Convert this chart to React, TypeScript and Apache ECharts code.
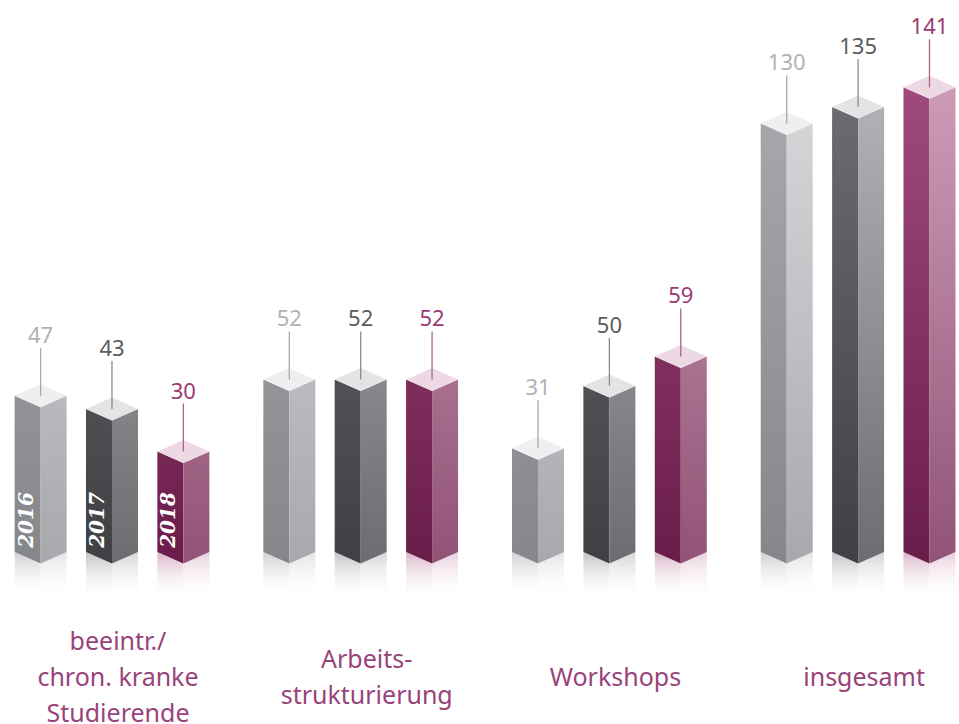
import React, { useEffect, useRef } from "react";
import * as echarts from "echarts";

const categories = ["beeintr./\nchron. kranke\nStudierende", "Arbeits-\nstrukturierung", "Workshops", "insgesamt"];
const years = ["2016", "2017", "2018"];
const values2016 = [47, 52, 31, 130];
const values2017 = [43, 52, 50, 135];
const values2018 = [30, 52, 59, 141];

const seriesValues = [values2016, values2017, values2018];

const palette = [
  { left: ["#a9aaae", "#86878b"], right: ["#d8d9db", "#a8a9ad"], top: "#eeeff1", label: "#b1b2b6", line: "#a9aaad", refl: ["#cfd0d2", "#e2e3e5"] },
  { left: ["#6d6e72", "#3f4044"], right: ["#b4b5b9", "#6c6d71"], top: "#e3e4e6", label: "#5b5c60", line: "#8a8b8e", refl: ["#bfc0c2", "#d4d5d7"] },
  { left: ["#9e4c7c", "#6a1c4a"], right: ["#cc9db8", "#925376"], top: "#edd9e4", label: "#9a3c73", line: "#b0628e", refl: ["#d9b3c7", "#e8cfdc"] },
];

function grad(c: string[]) {
  return {
    type: "linear",
    x: 0, y: 80, x2: 0, y2: 560,
    global: true,
    colorStops: [
      { offset: 0, color: c[0] },
      { offset: 1, color: c[1] },
    ],
  };
}

function fade(c: string, y0: number, y1: number) {
  return {
    type: "linear",
    x: 0, y: y0, x2: 0, y2: y1,
    global: true,
    colorStops: [
      { offset: 0, color: c },
      { offset: 1, color: "rgba(255,255,255,0)" },
    ],
  };
}

export default function App() {
  const ref = useRef<HTMLDivElement>(null);
  useEffect(() => {
    if (!ref.current) return;
    const chart = echarts.init(ref.current, undefined, { renderer: "svg" });

    const makeRender = (s: number) => (params: any, api: any) => {
      const ci = api.value(0);
      const v = api.value(1);
      const unit = api.size([1, 0])[0];
      const [cx0, yv] = api.coord([ci, v]);
      const [, yb0] = api.coord([ci, 0]);
      const yb = yb0 + 2;
      const cx = cx0 + (s - 1) * unit * 0.287;
      const w = 26;
      const dy = 11.5;
      const p = palette[s];
      const children: any[] = [];
      const rb = yb + 48;
      children.push({
        type: "polygon",
        shape: { points: [[cx - w, yb], [cx, yb + dy], [cx, rb], [cx - w, rb]] },
        style: { fill: fade(p.refl[0], yb, rb) },
      });
      children.push({
        type: "polygon",
        shape: { points: [[cx, yb + dy], [cx + w, yb], [cx + w, rb], [cx, rb]] },
        style: { fill: fade(p.refl[1], yb, rb) },
      });
      children.push({
        type: "polygon",
        shape: { points: [[cx - w, yv], [cx, yv + dy], [cx, yb + dy], [cx - w, yb]] },
        style: { fill: grad(p.left) },
      });
      children.push({
        type: "polygon",
        shape: { points: [[cx, yv + dy], [cx + w, yv], [cx + w, yb], [cx, yb + dy]] },
        style: { fill: grad(p.right) },
      });
      children.push({
        type: "polygon",
        shape: { points: [[cx - w, yv], [cx, yv - dy], [cx + w, yv], [cx, yv + dy]] },
        style: { fill: p.top },
      });
      children.push({
        type: "line",
        shape: { x1: cx, y1: yv, x2: cx, y2: yv - 48 },
        style: { stroke: p.line, lineWidth: 1.3 },
      });
      children.push({
        type: "text",
        x: cx,
        y: yv - 51,
        style: {
          text: String(v),
          fill: p.label,
          font: "22px 'Noto Sans', sans-serif",
          align: "center",
          verticalAlign: "bottom",
        },
      });
      if (ci === 0) {
        children.push({
          type: "text",
          x: cx - 15,
          y: yb - 32,
          rotation: Math.PI / 2,
          style: {
            text: years[s],
            fill: "#ffffff",
            font: "italic bold 20px 'DejaVu Serif', serif",
            align: "center",
            verticalAlign: "middle",
          },
        });
      }
      return { type: "group", children };
    };

    chart.setOption({
      animation: false,
      grid: { left: 0, right: 0, top: 25, bottom: 174, outerBoundsMode: "none", containLabel: false },
      xAxis: {
        type: "value",
        min: -0.4503,
        max: 3.4057,
        axisLine: { show: false },
        axisTick: { show: false },
        splitLine: { show: false },
        axisLabel: {
          customValues: [0, 1, 2, 3],
          formatter: (val: number) => categories[Math.round(val)] ?? "",
          color: "#99437b",
          fontSize: 25,
          lineHeight: 36,
          fontFamily: "'Noto Sans', sans-serif",
          margin: 126,
          padding: [0, 0, 0, 12],
          verticalAlign: "middle",
          align: "center",
        },
      },
      yAxis: { type: "value", min: 0, max: 160, show: false },
      series: seriesValues.map((vals, s) => ({
        type: "custom",
        name: years[s],
        clip: false,
        renderItem: makeRender(s),
        data: vals.map((v, i) => [i, v]),
      })),
    });
    return () => chart.dispose();
  }, []);
  return <div ref={ref} style={{ position: "absolute", left: 0, top: 0, width: 959, height: 724 }} />;
}
